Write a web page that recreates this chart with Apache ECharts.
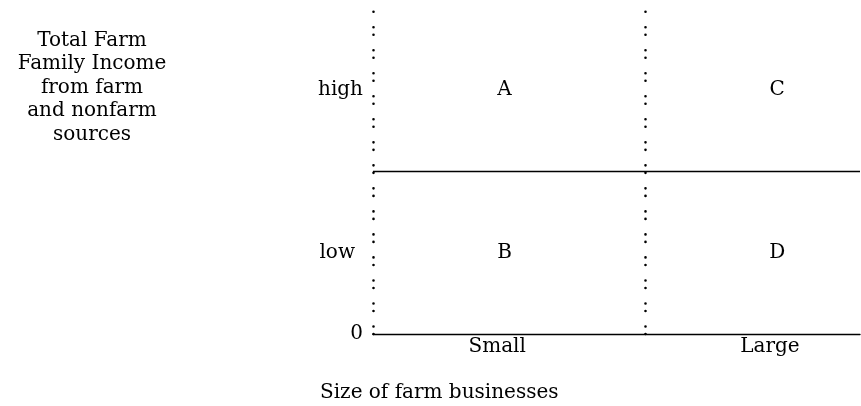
<!DOCTYPE html>
<html>
<head>
<meta charset="utf-8">
<script src="https://cdn.jsdelivr.net/npm/echarts@6/dist/echarts.min.js"></script>
<style>
  html, body { margin: 0; padding: 0; background: #fff; }
  #chart { width: 861px; height: 406px; }
</style>
</head>
<body>
<div id="chart"></div>
<script>
// size of business (x) and income level (y), positions on 0-100 axes
const xCats = ['Small', 'Large']
const xCatPos = [25.5, 81.5]
const yLevels = ['0', 'low', 'high']
const yLevelPos = [0, 25, 75]
const quadNames = ['A', 'B', 'C', 'D']
const quadX = [27, 27, 83, 83]
const quadY = [75, 25, 75, 25]
const xSplit = 56
const ySplit = 50

const FONT = 'DejaVu Serif'
const FS = 20
const INK = '#000'
const dots = [0.01, 7.5, 0.01, 15.5]

const chart = echarts.init(document.getElementById('chart'), null, { renderer: 'canvas' })

chart.setOption({
  animation: false,
  backgroundColor: '#fff',
  title: [{
    text: 'Total Farm\nFamily Income\nfrom farm\nand nonfarm\nsources',
    left: 87,
    top: 24,
    textAlign: 'center',
    textStyle: { fontFamily: FONT, fontSize: FS, fontWeight: 'normal', color: INK, lineHeight: 23.5, align: 'center' }
  }, {
    text: 'Size of farm businesses',
    left: 320,
    top: 383,
    padding: 0,
    textStyle: { fontFamily: FONT, fontSize: FS, fontWeight: 'normal', color: INK }
  }],
  grid: { left: 373, right: 1, top: 8, bottom: 72 },
  xAxis: {
    type: 'value',
    min: 0,
    max: 100,
    splitLine: { show: false },
    axisTick: { show: false },
    axisLine: { show: true, lineStyle: { color: INK, width: 1.4 } },
    axisLabel: {
      customValues: xCatPos,
      margin: 3,
      fontFamily: FONT,
      fontSize: FS,
      color: INK,
      formatter: v => xCats[xCatPos.indexOf(v)] || ''
    }
  },
  yAxis: {
    type: 'value',
    min: 0,
    max: 100,
    splitLine: { show: false },
    axisTick: { show: false },
    axisLine: { show: true, lineStyle: { color: INK, width: 2.6, type: dots, cap: 'round' } },
    axisLabel: {
      customValues: yLevelPos,
      margin: 10,
      fontFamily: FONT,
      fontSize: FS,
      color: INK,
      formatter: v => {
        const s = yLevels[yLevelPos.indexOf(v)] || ''
        return s === 'low' ? '{p|low}' : s
      },
      rich: { p: { fontFamily: FONT, fontSize: FS, color: INK, padding: [0, 8, 0, 0] } }
    }
  },
  series: [{
    type: 'scatter',
    symbolSize: 0,
    itemStyle: { opacity: 1 },
    data: quadNames.map((n, i) => ({ name: n, value: [quadX[i], quadY[i]] })),
    label: {
      show: true,
      position: 'inside',
      formatter: p => p.name,
      fontFamily: FONT,
      fontSize: FS,
      color: INK
    },
    markLine: {
      silent: true,
      symbol: 'none',
      label: { show: false },
      data: [
        { xAxis: xSplit, lineStyle: { color: INK, width: 2.6, type: dots, cap: 'round' } },
        { yAxis: ySplit, lineStyle: { color: INK, width: 1.4, type: 'solid' } }
      ]
    }
  }]
})
</script>
</body>
</html>
